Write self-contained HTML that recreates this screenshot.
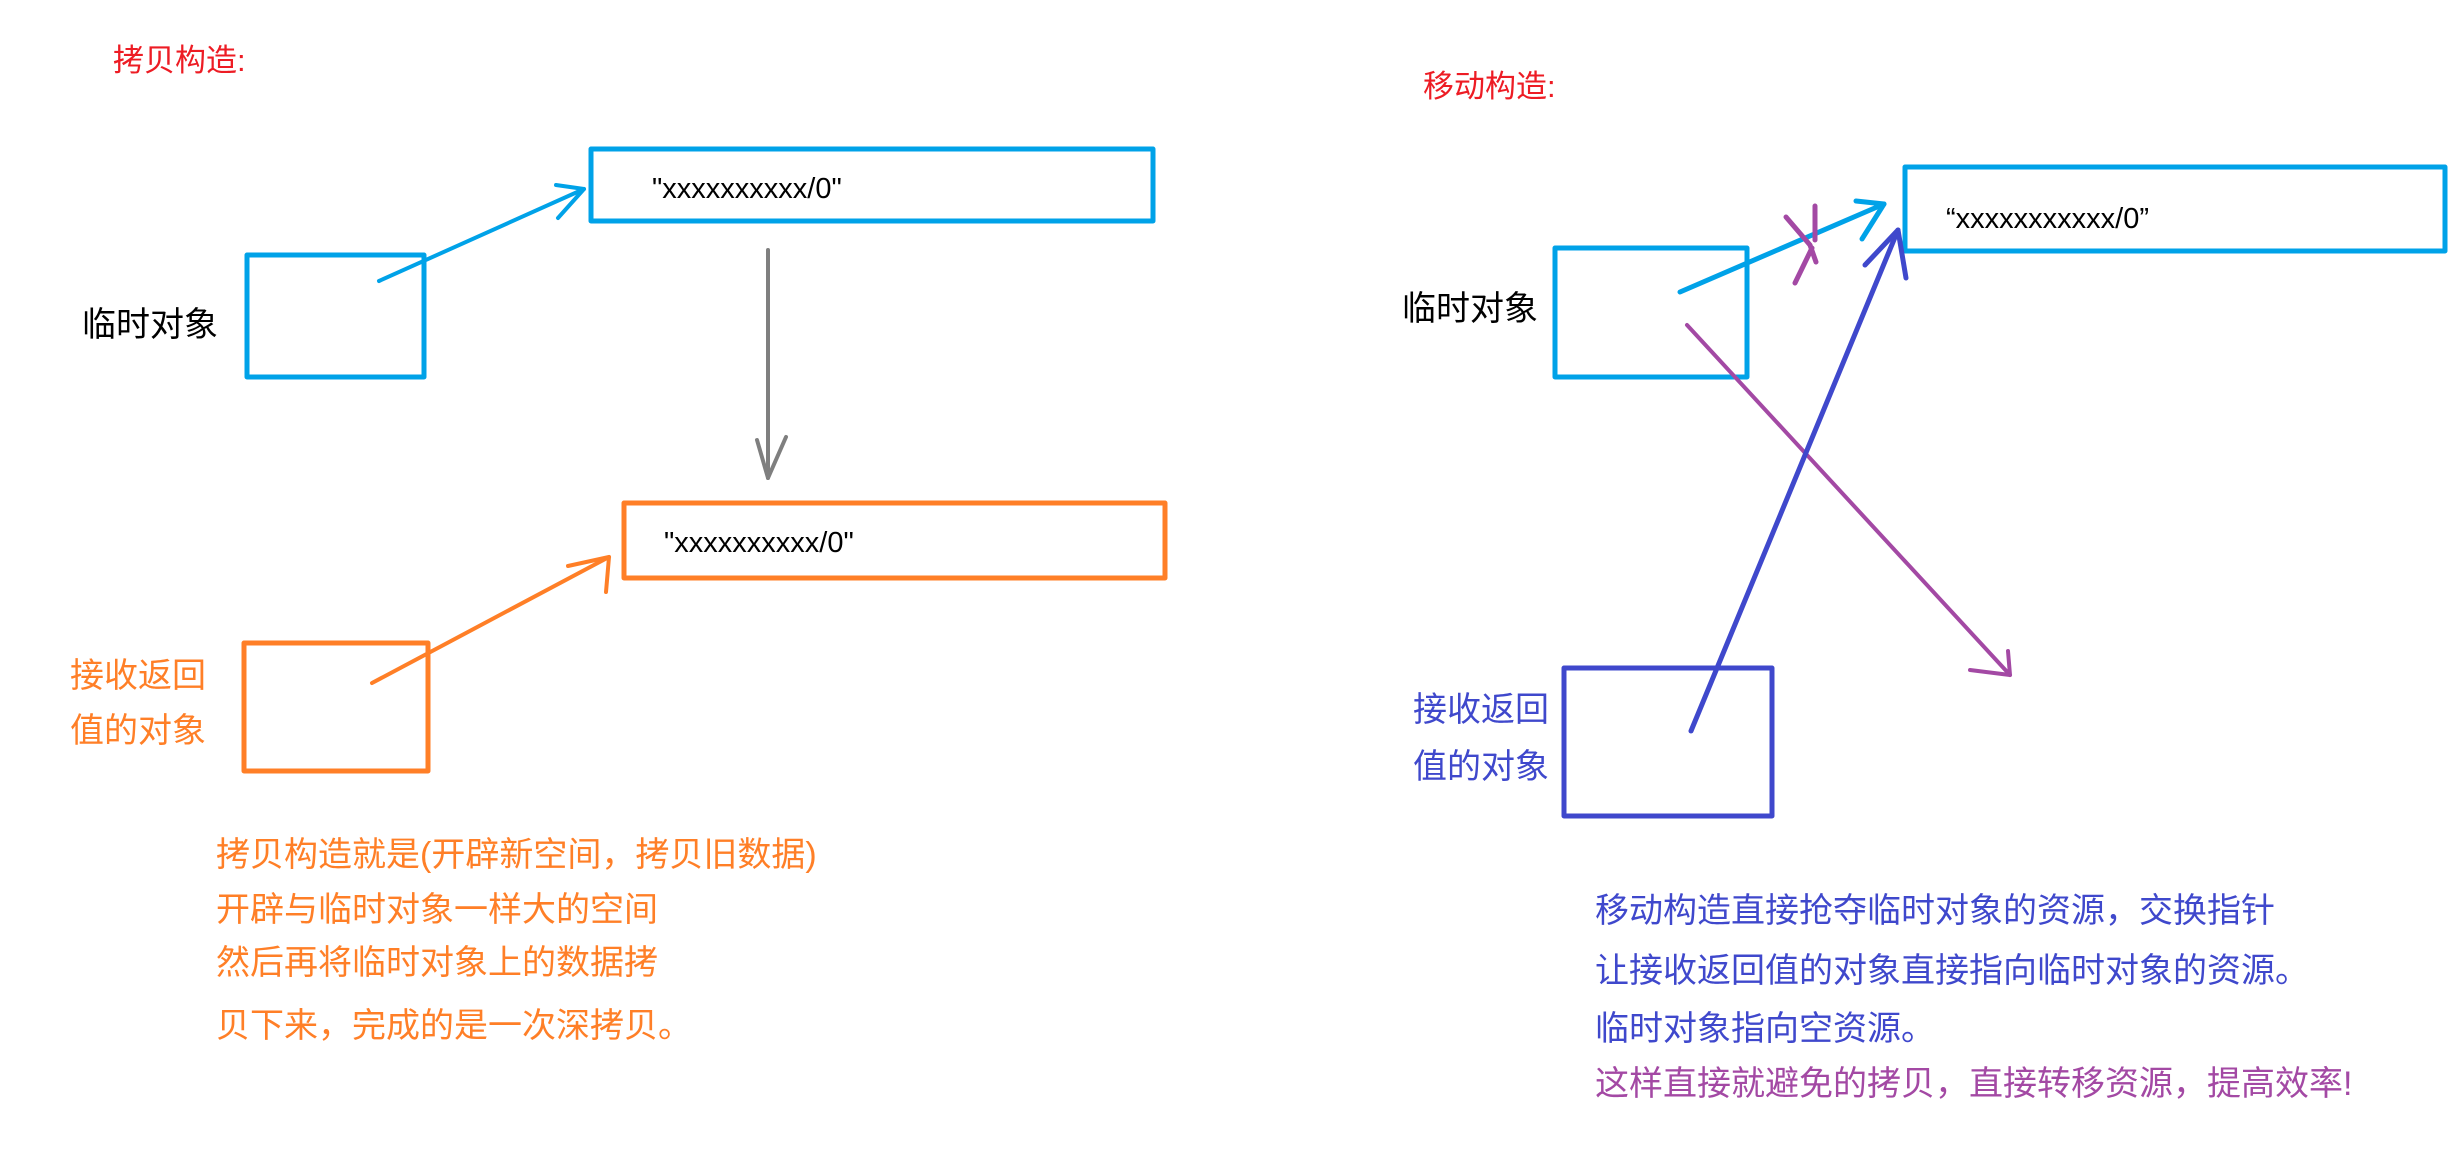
<!DOCTYPE html>
<html><head><meta charset="utf-8"><style>
html,body{margin:0;padding:0;background:#fff;}
svg{display:block;}
text{font-family:"Liberation Sans","Noto Sans CJK SC",sans-serif;}
</style></head><body>
<svg width="2461" height="1166" viewBox="0 0 2461 1166" xmlns="http://www.w3.org/2000/svg">
<g fill="none" stroke-linecap="round" stroke-linejoin="round">
<rect x="591" y="149" width="562" height="72" stroke="#00a2e8" stroke-width="5"/>
<rect x="247" y="255" width="177" height="122" stroke="#00a2e8" stroke-width="5"/>
<path d="M379 281 L584 189" stroke="#00a2e8" stroke-width="4"/>
<path d="M556 185 L584 189 L558 218" stroke="#00a2e8" stroke-width="4"/>
<path d="M768 250 L768 478" stroke="#7f7f7f" stroke-width="4"/>
<path d="M757 440 L768 478 L786 437" stroke="#7f7f7f" stroke-width="4"/>
<rect x="624" y="503" width="541" height="75" stroke="#ff7f27" stroke-width="5"/>
<rect x="244" y="643" width="184" height="128" stroke="#ff7f27" stroke-width="5"/>
<path d="M372 683 L609 557" stroke="#ff7f27" stroke-width="4"/>
<path d="M568 566 L609 557 L606 592" stroke="#ff7f27" stroke-width="4"/>
<rect x="1905" y="167" width="540" height="84" stroke="#00a2e8" stroke-width="5"/>
<rect x="1555" y="248" width="192" height="129" stroke="#00a2e8" stroke-width="5"/>
<path d="M1680 292 L1884 204" stroke="#00a2e8" stroke-width="5"/>
<path d="M1856 201 L1884 204 L1862 239" stroke="#00a2e8" stroke-width="5"/>
<path d="M1815 206 L1815 240 M1786 217 L1810 245 L1816 262 M1812 248 L1795 283" stroke="#a349a4" stroke-width="5"/>
<path d="M1687 325 L2010 675" stroke="#a349a4" stroke-width="4"/>
<path d="M1970 670 L2010 675 L2008 651" stroke="#a349a4" stroke-width="4"/>
<rect x="1564" y="668" width="208" height="148" stroke="#3f48cc" stroke-width="5"/>
<path d="M1691 731 L1898 230" stroke="#3f48cc" stroke-width="5"/>
<path d="M1865 265 L1898 230 L1906 278" stroke="#3f48cc" stroke-width="5"/>
</g>
<g font-size="31">
<text x="113" y="71" fill="#ed1c24">拷贝构造:</text>
<text x="1423" y="97" fill="#ed1c24">移动构造:</text>
</g>
<g font-size="29" fill="#000">
<text x="652" y="198">"xxxxxxxxxx/0"</text>
<text x="664" y="552">"xxxxxxxxxx/0"</text>
<text x="1946" y="228">“xxxxxxxxxxx/0”</text>
</g>
<g font-size="34">
<text x="82" y="336" fill="#000">临时对象</text>
<text x="1402" y="320" fill="#000">临时对象</text>
<text x="70" y="687" fill="#ff7f27">接收返回</text>
<text x="70" y="742" fill="#ff7f27">值的对象</text>
<text x="1413" y="721" fill="#3f48cc">接收返回</text>
<text x="1413" y="778" fill="#3f48cc">值的对象</text>
</g>
<g font-size="34" fill="#ff7f27">
<text x="216" y="866">拷贝构造就是(开辟新空间，拷贝旧数据)</text>
<text x="216" y="921">开辟与临时对象一样大的空间</text>
<text x="216" y="974">然后再将临时对象上的数据拷</text>
<text x="216" y="1037">贝下来，完成的是一次深拷贝。</text>
</g>
<g font-size="34">
<text x="1595" y="922" fill="#3f48cc">移动构造直接抢夺临时对象的资源，交换指针</text>
<text x="1595" y="982" fill="#3f48cc">让接收返回值的对象直接指向临时对象的资源。</text>
<text x="1595" y="1040" fill="#3f48cc">临时对象指向空资源。</text>
<text x="1595" y="1095" fill="#a349a4">这样直接就避免的拷贝，直接转移资源，提高效率!</text>
</g>
</svg>
</body></html>
